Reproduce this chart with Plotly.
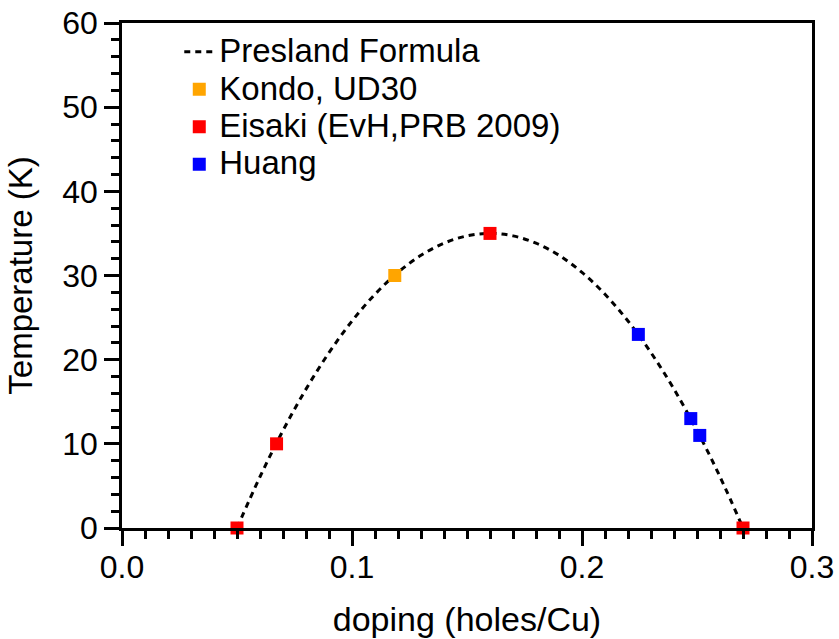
import plotly.graph_objects as go

# Presland formula curve values (doping, Tc) read/tabulated
presland_x = [0.05, 0.06, 0.07, 0.08, 0.09, 0.10, 0.11, 0.12, 0.13, 0.14, 0.15, 0.16,
              0.17, 0.18, 0.19, 0.20, 0.21, 0.22, 0.23, 0.24, 0.25, 0.26, 0.27]
presland_y = [0.0, 6.09, 11.58, 16.50, 20.83, 24.59, 27.77, 30.37, 32.40, 33.84, 34.71, 35.0,
              34.71, 33.84, 32.40, 30.37, 27.77, 24.59, 20.83, 16.50, 11.58, 6.09, 0.0]

kondo_x = [0.1186]
kondo_y = [30.0]

eisaki_x = [0.050, 0.0672, 0.160, 0.270]
eisaki_y = [0.0, 10.0, 35.0, 0.0]

huang_x = [0.2245, 0.2473, 0.2512]
huang_y = [23.0, 13.0, 11.0]

series_names = ["Presland Formula", "Kondo, UD30", "Eisaki (EvH,PRB 2009)", "Huang"]

FONT = "Liberation Sans, Arial, Helvetica, sans-serif"
LEG_SIZE = 33


def leg(name):
    return f'<span style="font-size:{LEG_SIZE}px">{name}</span>'


fig = go.Figure()
fig.add_trace(go.Scatter(x=presland_x, y=presland_y, mode="lines", name=leg(series_names[0]),
                         line=dict(color="black", width=3, dash="6px,5px", shape="spline")))
fig.add_trace(go.Scatter(x=kondo_x, y=kondo_y, mode="markers", name=leg(series_names[1]),
                         marker=dict(symbol="square", size=13, color="#FFA500", line=dict(width=0)),
                         cliponaxis=False))
fig.add_trace(go.Scatter(x=eisaki_x, y=eisaki_y, mode="markers", name=leg(series_names[2]),
                         marker=dict(symbol="square", size=13, color="#FF0000", line=dict(width=0)),
                         cliponaxis=False))
fig.add_trace(go.Scatter(x=huang_x, y=huang_y, mode="markers", name=leg(series_names[3]),
                         marker=dict(symbol="square", size=13, color="#0000FF", line=dict(width=0)),
                         cliponaxis=False))

axis_common = dict(showgrid=False, zeroline=False, showline=True, linecolor="black", linewidth=2.5,
                   mirror=True, ticks="outside", ticklen=15, tickwidth=2.5, tickcolor="black",
                   automargin=False,
                   tickfont=dict(family=FONT, size=32, color="black"))

fig.update_xaxes(range=[0, 0.3], dtick=0.1, tickformat=".1f", ticklabelstandoff=-6,
                 minor=dict(ticks="outside", dtick=0.01, ticklen=8, tickwidth=2.5, tickcolor="black"),
                 title=dict(text="doping (holes/Cu)", font=dict(family=FONT, size=34, color="black"), standoff=24),
                 **axis_common)
fig.update_yaxes(range=[0, 60], dtick=10,
                 minor=dict(ticks="outside", dtick=2, ticklen=8, tickwidth=2.5, tickcolor="black"),
                 title=dict(text="Temperature (K)", font=dict(family=FONT, size=33, color="black"), standoff=20),
                 **axis_common)

fig.update_layout(
    width=839, height=639,
    margin=dict(l=122, r=27, t=23, b=111, autoexpand=False),
    plot_bgcolor="white", paper_bgcolor="white",
    font=dict(family=FONT, color="black"),
    showlegend=True,
    legend=dict(x=0.083, y=0.99, xanchor="left", yanchor="top", bgcolor="rgba(0,0,0,0)",
                font=dict(family=FONT, size=26.5, color="black"), tracegroupgap=0, itemsizing="trace"),
)

fig.write_html("out.html")
